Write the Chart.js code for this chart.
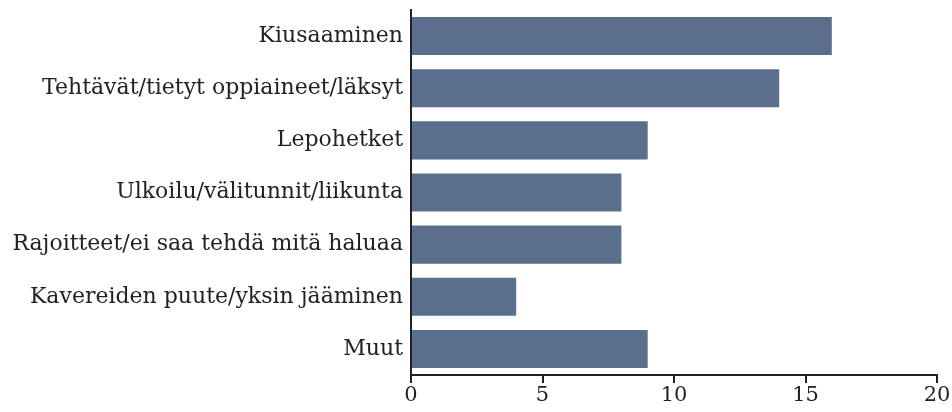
<!DOCTYPE html>
<html>
<head>
<meta charset="utf-8">
<script src="https://cdn.jsdelivr.net/npm/chart.js@4/dist/chart.umd.min.js"></script>
<style>
  html, body { margin: 0; padding: 0; background: #fff; }
  #wrap { width: 952px; height: 412px; position: relative; }
</style>
</head>
<body>
<div id="wrap"><canvas id="chart"></canvas></div>
<script>
// Data
const categories = [
    'Kiusaaminen',
    'Tehtävät/tietyt oppiaineet/läksyt',
    'Lepohetket',
    'Ulkoilu/välitunnit/liikunta',
    'Rajoitteet/ei saa tehdä mitä haluaa',
    'Kavereiden puute/yksin jääminen',
    'Muut'
];
const counts = [16, 14, 9, 8, 8, 4, 9];
const xTicks = [0, 5, 10, 15, 20];

const axisColor = '#222';
const fontFamily = "'DejaVu Serif', 'Liberation Serif', serif";

new Chart(document.getElementById('chart').getContext('2d'), {
    type: 'bar',
    data: {
        labels: categories,
        datasets: [{
            data: counts,
            backgroundColor: '#5a6f8c',
            borderWidth: 0,
            barPercentage: 0.73,
            categoryPercentage: 1
        }]
    },
    options: {
        indexAxis: 'y',
        responsive: true,
        maintainAspectRatio: false,
        animation: false,
        layout: { padding: { top: 10, right: 15, left: 0, bottom: 0 } },
        plugins: {
            legend: { display: false },
            tooltip: { enabled: false }
        },
        scales: {
            x: {
                min: 0,
                max: 20,
                afterBuildTicks: function (scale) {
                    scale.ticks = xTicks.map(v => ({ value: v }));
                },
                afterFit: function (scale) { scale.height = 37; },
                grid: { drawOnChartArea: false, drawTicks: true, tickLength: 8, color: axisColor, lineWidth: 2 },
                border: { display: true, color: axisColor, width: 2 },
                ticks: { color: '#222', padding: 0, font: { family: fontFamily, size: 21 } }
            },
            y: {
                afterFit: function (scale) {
                    scale.width = 411;
                    scale.paddingTop = 0;
                    scale.paddingBottom = 0;
                },
                grid: { drawOnChartArea: false, drawTicks: false },
                border: { display: true, color: axisColor, width: 2 },
                ticks: { color: '#222', padding: 8, font: { family: fontFamily, size: 22 } }
            }
        }
    }
});
</script>
</body>
</html>
